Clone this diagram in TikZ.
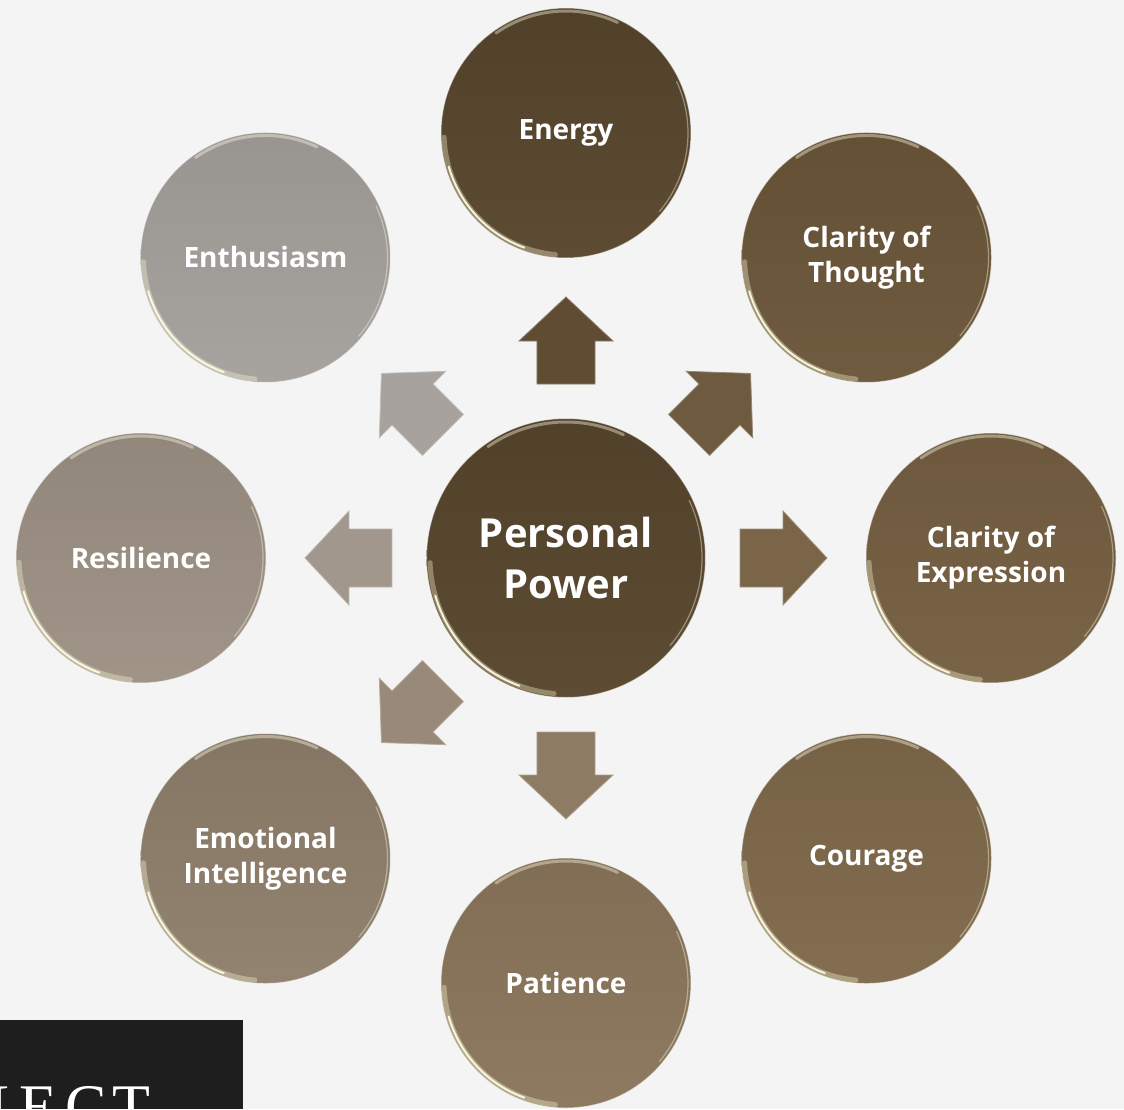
\documentclass[tikz,border=0pt]{standalone}
\usepackage{fontspec}
\setmainfont{Open Sans}
\newfontfamily\slidefont{Liberation Serif}
\usepackage{tikz}
\usetikzlibrary{calc}
\usepackage{xcolor}

\definecolor{paper}{HTML}{F4F4F4}
\definecolor{cPower}{HTML}{58462D}
\definecolor{cEnergy}{HTML}{58462D}
\definecolor{cThought}{HTML}{6B5639}
\definecolor{cExpress}{HTML}{755F42}
\definecolor{cCourage}{HTML}{7F694B}
\definecolor{cPatience}{HTML}{8A765B}
\definecolor{cEmotion}{HTML}{8F7F6C}
\definecolor{cResil}{HTML}{9D9184}
\definecolor{cEnthus}{HTML}{A4A09C}
\definecolor{slidedark}{HTML}{1E1E1E}

\tikzset{
	disc/.style={circle, minimum size=250pt, inner sep=0pt, outer sep=0pt,
		top color=#1!93!black, bottom color=#1!97!white,
		draw=white, draw opacity=0.5, line width=1pt,
		text=white, align=center, font=\bfseries\fontsize{28}{35}\selectfont},
	hub/.style={disc=#1, minimum size=279pt, font=\bfseries\fontsize{40}{51}\selectfont},
	blockarrow/.style={fill=#1, draw=#1!72!white, line width=0.8pt, line join=miter},
	gloss/.style={draw=white!85!yellow, line width=5pt, opacity=0.35, line cap=round},
	glint/.style={draw=white!90!yellow, line width=2pt, opacity=0.9, line cap=round},
	sheen/.style={draw=white!90!yellow, line width=3pt, opacity=0.4, line cap=round},
}

\begin{document}
\begin{tikzpicture}[x=1pt, y=1pt]
	\useasboundingbox (-566,-551) rectangle (558,558);
	\fill[paper] (-566,-551) rectangle (558,558);

	% hub and the eight qualities
	\node[hub=cPower] (pp) at (0,0) {Personal\\Power};
	\node[disc=cEnergy] (en) at (90:425) {Energy};
	\node[disc=cThought] (ct) at (45:425) {Clarity of\\Thought};
	\node[disc=cExpress] (ce) at (0:425) {Clarity of\\Expression};
	\node[disc=cCourage] (co) at (-45:425) {Courage};
	\node[disc=cPatience] (pa) at (-90:425) {Patience};
	\node[disc=cEmotion] (ei) at (-135:425) {Emotional\\Intelligence};
	\node[disc=cResil] (rs) at (180:425) {Resilience};
	\node[disc=cEnthus] (et) at (135:425) {Enthusiasm};

	% block arrows (none towards Courage)
	\foreach \a/\c in {90/5F4C33, 45/6E5A3E, 0/7B6548, -90/8D7B63, -135/988978, 180/A1978C, 135/A7A29D} {
		\definecolor{arrowc}{HTML}{\c}
		\fill[blockarrow=arrowc, rotate=\a] (174,-29) -- (217,-29) -- (217,-47) -- (261,0) -- (217,47) -- (217,29) -- (174,29) -- cycle;
	}

	% glossy rims
	\foreach \n/\r in {pp/136, en/122, ct/122, ce/122, co/122, pa/122, ei/122, rs/122, et/122} {
		\draw[gloss, shift={(\n)}] (182:\r) arc (182:265:\r);
		\draw[glint, shift={(\n)}] (196:\r) arc (196:250:\r);
		\draw[sheen, shift={(\n)}] (65:\r) arc (65:125:\r);
		\draw[glint, opacity=0.4, line width=1.2pt, shift={(\n)}] (-40:\r) arc (-40:25:\r);
	}

	% corner of the next slide
	\begin{scope}
		\clip (-566,-462) rectangle (-323,-551);
		\fill[slidedark] (-566,-462) rectangle (-323,-551);
		\node[anchor=base west, inner sep=0pt, text=white, font=\slidefont\fontsize{62}{62}\selectfont] (lect) at (-578,-569) {L\kern-7pt E\kern9pt C\kern5pt T};
	\end{scope}
\end{tikzpicture}
\end{document}
